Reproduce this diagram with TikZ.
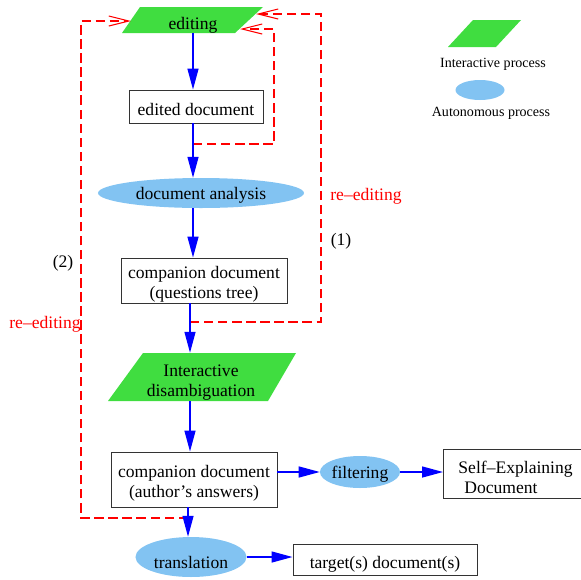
\documentclass[tikz,border=0pt]{standalone}
\usepackage{fontspec}
\setmainfont{Liberation Serif}
\usetikzlibrary{shapes.geometric,arrows.meta}
\definecolor{interactive}{HTML}{40DD40}
\definecolor{autonomous}{HTML}{82C3F2}
\tikzset{
  doc/.style={draw=black!80, line width=0.8pt, align=center, inner sep=0pt},
  autoproc/.style={ellipse, fill=autonomous, inner sep=0pt},
  flow/.style={blue, line width=1.2pt, -{Triangle[length=0.63cm,width=0.33cm]}},
  redash/.style={red, line width=0.9pt, dash pattern=on 8pt off 4pt, -{Straight Barb[length=0.6cm,width=0.3cm]}},
  legend/.style={font=\fontsize{12}{14}\selectfont},
  txtlow/.style={text height=#1, text depth=3pt},
  txttwo/.style={text height=#1, text depth=3.6pt},
  txtell/.style={text height=#1, text depth=0pt},
}
\begin{document}
\begin{tikzpicture}[x=0.03cm, y=-0.03cm, font=\fontsize{15}{17}\selectfont]
  \useasboundingbox (0,0) rectangle (581,579);
  % interactive steps
  \fill[interactive] (140,7) -- (263,7) -- (235,33) -- (122,33) -- cycle;
  \fill[interactive] (143,353) -- (296,353) -- (268,401) -- (108,401) -- cycle;
  \node[inner sep=0pt, txtlow=18.4pt] (A) at (193,20) {editing};
  \node[align=center, inner sep=0pt, minimum height=1.44cm, txttwo=36.8pt] (D) at (201,377) {Interactive\\disambiguation};
  % documents and autonomous steps
  \node[doc, txtlow=19pt, minimum width=4.02cm, minimum height=0.99cm] (B) at (196,106.5) {edited document};
  \node[autoproc, txtell=11pt, minimum width=6.18cm, minimum height=0.9cm] (C) at (201,193) {document analysis};
  \node[doc, txttwo=34.1pt, minimum width=4.98cm, minimum height=1.35cm] (Q) at (204,280.5) {companion document\\(questions tree)};
  \node[doc, txttwo=35pt, minimum width=4.98cm, minimum height=1.65cm] (E) at (194,479.5) {companion document\\(author’s answers)};
  \node[autoproc, txtell=11pt, minimum width=2.28cm, minimum height=0.96cm] (F) at (360,472) {filtering};
  \node[doc, txttwo=3.7pt, anchor=west, align=left, text width=4.4cm, inner xsep=0.45cm, minimum height=1.47cm] (G) at (443,473.5) {Self–Explaining\\\ Document};
  \node[autoproc, txtell=18.8pt, minimum width=3.33cm, minimum height=1.2cm] (T) at (191,557) {translation};
  \node[doc, txtlow=18.2pt, minimum width=5.52cm, minimum height=0.93cm] (H) at (385,559.5) {target(s) document(s)};
  % legend
  \fill[interactive] (473,20) -- (521,20) -- (496,47) -- (448,47) -- cycle;
  \node[legend] (L1) at (493,64) {Interactive process};
  \node[autoproc, minimum width=1.47cm, minimum height=0.6cm] (L2) at (480,90) {};
  \node[legend] (L3) at (491,113) {Autonomous process};
  % loop labels
  \node[red] (r1) at (366,196) {re–editing};
  \node (n1) at (341,241) {(1)};
  \node (n2) at (63,263) {(2)};
  \node[red] (r2) at (45,324) {re–editing};
  % re-editing loops
  \coordinate (s1) at (193,144);
  \coordinate (t1) at (240,29);
  \coordinate (s2) at (190,322);
  \coordinate (t2) at (256,14);
  \coordinate (s3) at (188,518);
  \coordinate (t3) at (131,21);
  \draw[redash] (s1) -| (274,29) -- (t1);
  \draw[redash] (s2) -| (321,14) -- (t2);
  \draw[redash] (s3) -| (81,21) -- (t3);
  % main flow
  \coordinate (m1) at (193,0);
  \coordinate (m2) at (190,0);
  \coordinate (m3) at (188,0);
  \draw[flow] (m1 |- A.south) -- (m1 |- B.north);
  \draw[flow] (m1 |- B.south) -- (m1 |- C.north);
  \draw[flow] (m1 |- C.south) -- (m1 |- Q.north);
  \draw[flow] (m2 |- Q.south) -- (m2 |- D.north);
  \draw[flow] (m2 |- D.south) -- (m2 |- E.north);
  \draw[flow] (m3 |- E.south) -- (m3 |- T.north);
  \draw[flow] (E.east |- F) -- (F.west);
  \draw[flow] (F.east) -- (F.east -| G.west);
  \draw[flow] (T.east) -- (T.east -| H.west);
\end{tikzpicture}
\end{document}
